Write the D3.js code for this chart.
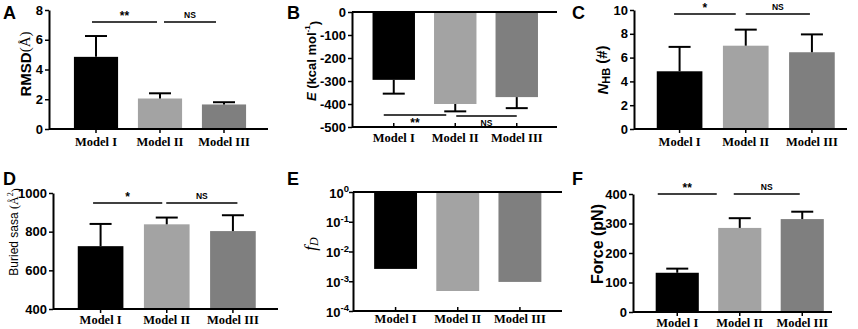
<!DOCTYPE html>
<html>
<head>
<meta charset="utf-8">
<title>Model comparison</title>
<style>
  body { margin: 0; background: #fff; }
  text { fill: #000; }
</style>
</head>
<body>
<script src="https://cdn.jsdelivr.net/npm/d3@7"></script>
<script>
    // data
    const models = ["Model I", "Model II", "Model III"];
    const barColors = ["#000000", "#a3a3a3", "#7f7f7f"];

    const rmsdMean = [4.85, 2.05, 1.65];
    const rmsdErr = [1.4, 0.35, 0.15];
    const energyMean = [-295, -400, -370];
    const energyErr = [60, 32, 48];
    const nhbMean = [4.85, 7.0, 6.45];
    const nhbErr = [2.05, 1.35, 1.5];
    const sasaMean = [725, 838, 803];
    const sasaErr = [115, 35, 82];
    const fdValue = [0.0026, 0.00047, 0.00095];
    const forceMean = [133, 285, 315];
    const forceErr = [14, 33, 25];

    const ticksA = [0, 2, 4, 6, 8];
    const ticksB = [0, -100, -200, -300, -400, -500];
    const ticksC = [0, 2, 4, 6, 8, 10];
    const ticksD = [400, 600, 800, 1000];
    const ticksE = [0, -1, -2, -3, -4]; // exponents of 10
    const ticksF = [0, 100, 200, 300, 400];

    const SANS = "'Liberation Sans', Arial, sans-serif";
    const SERIF = "'Liberation Serif', 'Times New Roman', serif";

    const width = 858, height = 329;
    const svg = d3.select("body").append("svg")
        .attr("width", width)
        .attr("height", height)
        .attr("viewBox", `0 0 ${width} ${height}`);

    // panel layouts (pixel frame of each plot)
    const panels = [
        {letter: "A", lx: 3, ly: 19, axisX: 49, xEnd: 268, yTop: 10, yBot: 129, band: [64, 256],
         domain: [0, 8], ticks: ticksA, base: 0, mean: rmsdMean, err: rmsdErr, pad: 4,
         label: "rmsd", labelX: 25, labelY: 64,
         sig: [{a: 0, b: 1, text: "**", y: 7.2, dx: [-4, -3]}, {a: 1, b: 2, text: "NS", y: 7.2, dx: [4, -8]}]},
        {letter: "B", lx: 287, ly: 19, axisX: 352, xEnd: 557, yTop: 12, yBot: 127, band: [363, 547.5],
         domain: [-500, 0], ticks: ticksB, base: 0, mean: energyMean, err: energyErr, topAxis: true, pad: 6,
         label: "energy", labelX: 311, labelY: 61,
         sig: [{a: 0, b: 1, text: "**", y: -448, dx: [-10, -9], below: true},
               {a: 1, b: 2, text: "NS", y: -452, dx: [1, 0], below: true}]},
        {letter: "C", lx: 572, ly: 19, axisX: 634, xEnd: 847, yTop: 10, yBot: 129, band: [646.5, 845],
         domain: [0, 10], ticks: ticksC, base: 0, mean: nhbMean, err: nhbErr, pad: 4,
         label: "nhb", labelX: 602, labelY: 70,
         sig: [{a: 0, b: 1, text: "*", y: 9.66, dx: [-5.5, -10]}, {a: 1, b: 2, text: "NS", y: 9.66, dx: [0, -2]}]},
        {letter: "D", lx: 3, ly: 185, axisX: 53, xEnd: 278, yTop: 193, yBot: 309, band: [67.5, 266],
         domain: [400, 1000], ticks: ticksD, base: 400, mean: sasaMean, err: sasaErr, pad: 2,
         label: "sasa", labelX: 14, labelY: 232,
         sig: [{a: 0, b: 1, text: "*", y: 948, dx: [-7.5, -4.5]}, {a: 1, b: 2, text: "NS", y: 948, dx: [-0.5, 4.5]}]},
        {letter: "E", lx: 287, ly: 185, axisX: 353, xEnd: 562, yTop: 192, yBot: 311, band: [364.5, 551],
         domain: [1e-4, 1], log: true, ticks: ticksE, base: 1, mean: fdValue, err: null, topAxis: true, pad: 3,
         label: "fd", labelX: 310, labelY: 244, sig: []},
        {letter: "F", lx: 572, ly: 185, axisX: 633, xEnd: 832, yTop: 194, yBot: 312, band: [646, 833.5],
         domain: [0, 400], ticks: ticksF, base: 0, mean: forceMean, err: forceErr, pad: 2,
         label: "force", labelX: 597, labelY: 244,
         sig: [{a: 0, b: 1, text: "**", y: 400, dx: [-19.5, -23]}, {a: 1, b: 2, text: "NS", y: 400, dx: [-6, -2.5]}]}
    ];

    panels.forEach(p => drawPanel(svg.append("g").attr("class", "panel" + p.letter), p));

    function drawPanel(root, p) {
        const scaleY = (p.log ? d3.scaleLog() : d3.scaleLinear())
            .domain(p.domain)
            .range([p.yBot, p.yTop]);
        const scaleX = d3.scaleBand()
            .domain(models)
            .range(p.band)
            .paddingInner(0.31)
            .paddingOuter(0.155);
        const bw = scaleX.bandwidth();
        const cx = i => scaleX(models[i]) + bw / 2;

        // bars
        root.append("g").selectAll("rect")
            .data(p.mean)
            .join("rect")
            .attr("x", (d, i) => scaleX(models[i]))
            .attr("width", bw)
            .attr("y", d => Math.min(scaleY(d), scaleY(p.base)))
            .attr("height", d => Math.abs(scaleY(d) - scaleY(p.base)))
            .attr("fill", (d, i) => barColors[i]);

        // error bars (one-sided, away from baseline)
        if (p.err) {
            const cap = 11;
            const gErr = root.append("g")
                .attr("stroke", "#000")
                .attr("stroke-width", 2);
            p.mean.forEach((m, i) => {
                const end = m + Math.sign(m - p.base) * p.err[i];
                gErr.append("line")
                    .attr("x1", cx(i)).attr("x2", cx(i))
                    .attr("y1", scaleY(m)).attr("y2", scaleY(end));
                gErr.append("line")
                    .attr("x1", cx(i) - cap).attr("x2", cx(i) + cap)
                    .attr("y1", scaleY(end)).attr("y2", scaleY(end));
            });
        }

        // y axis
        const axisY = d3.axisLeft(scaleY)
            .tickValues(p.log ? p.ticks.map(e => Math.pow(10, e)) : p.ticks)
            .tickSize(4)
            .tickSizeOuter(0)
            .tickPadding(2)
            .tickFormat(p.log ? () => "" : d => String(d));
        const gY = root.append("g")
            .attr("transform", `translate(${p.axisX},0)`)
            .call(axisY);
        gY.selectAll(".domain").attr("stroke-width", 2);
        gY.selectAll(".tick line").attr("stroke-width", 1.5);
        gY.selectAll(".tick text")
            .attr("font-family", SANS)
            .attr("font-weight", "bold")
            .attr("font-size", 13);
        if (p.log) {
            gY.selectAll(".tick").each(function (d) {
                const t = d3.select(this).append("text")
                    .attr("x", -4)
                    .attr("dy", "0.4em")
                    .attr("text-anchor", "end")
                    .attr("font-family", SANS)
                    .attr("font-weight", "bold")
                    .attr("font-size", 13)
                    .attr("fill", "#000");
                t.append("tspan").text("10");
                t.append("tspan")
                    .attr("dy", "-0.55em")
                    .attr("font-size", 9.5)
                    .text(String(Math.round(Math.log10(d))));
            });
        }

        // x axis (bottom), category labels
        const axisX = d3.axisBottom(scaleX)
            .tickSize(p.topAxis ? -4 : 4)
            .tickSizeOuter(0)
            .tickPadding(p.pad);
        const gX = root.append("g")
            .attr("transform", `translate(0,${p.yBot})`)
            .call(axisX);
        gX.select(".domain")
            .attr("d", `M${p.axisX},0H${p.xEnd}`)
            .attr("stroke-width", 2);
        gX.selectAll(".tick line").attr("stroke-width", 1.5);
        gX.selectAll(".tick text")
            .attr("font-family", SERIF)
            .attr("font-weight", "bold")
            .attr("font-size", 12.5);

        // zero / baseline axis at top for negative or log bars
        if (p.topAxis) {
            root.append("line")
                .attr("x1", p.axisX).attr("x2", p.xEnd)
                .attr("y1", scaleY(p.base)).attr("y2", scaleY(p.base))
                .attr("stroke", "#000")
                .attr("stroke-width", 2);
        }

        // significance brackets
        p.sig.forEach(s => {
            const x1 = cx(s.a) + s.dx[0], x2 = cx(s.b) + s.dx[1];
            const yy = scaleY(s.y);
            root.append("line")
                .attr("x1", x1).attr("x2", x2)
                .attr("y1", yy).attr("y2", yy)
                .attr("stroke", "#000")
                .attr("stroke-width", 1.5);
            const isNS = s.text === "NS";
            root.append("text")
                .attr("x", (x1 + x2) / 2)
                .attr("y", s.below ? yy + (isNS ? 10 : 12) : yy - (isNS ? 4 : 2))
                .attr("text-anchor", "middle")
                .attr("font-family", SANS)
                .attr("font-weight", "bold")
                .attr("font-size", isNS ? 8.5 : 12)
                .text(s.text);
        });

        // panel letter
        root.append("text")
            .attr("x", p.lx).attr("y", p.ly)
            .attr("font-family", SANS)
            .attr("font-weight", "bold")
            .attr("font-size", 18)
            .text(p.letter);

        // y title
        const title = root.append("text")
            .attr("transform", `translate(${p.labelX},${p.labelY}) rotate(-90)`)
            .attr("text-anchor", "middle")
            .attr("dominant-baseline", "central")
            .attr("font-family", SANS)
            .attr("font-weight", "bold")
            .attr("font-size", 15);
        writeTitle(title, p.label);
    }

    function writeTitle(t, kind) {
        if (kind === "rmsd") {
            t.append("tspan").text("RMSD");
            t.append("tspan").attr("font-family", SERIF).attr("font-weight", "normal").text("(Å)");
        } else if (kind === "energy") {
            t.attr("font-size", 13);
            t.append("tspan").attr("font-style", "italic").text("E");
            t.append("tspan").text(" (kcal mol");
            t.append("tspan").attr("dy", "-0.5em").attr("font-size", 8).text("-1");
            t.append("tspan").attr("dy", "0.5em").text(")");
        } else if (kind === "nhb") {
            t.append("tspan").attr("font-style", "italic").text("N");
            t.append("tspan").attr("dy", "0.35em").attr("font-size", 11).text("HB");
            t.append("tspan").attr("dy", "-0.35em").text(" (#)");
        } else if (kind === "sasa") {
            t.attr("font-weight", "normal").attr("font-size", 12);
            t.append("tspan").text("Buried sasa ");
            t.append("tspan").attr("font-family", SERIF).text("(Å");
            t.append("tspan").attr("font-family", SERIF).attr("dy", "-0.5em").attr("font-size", 8).text("2");
            t.append("tspan").attr("font-family", SERIF).attr("dy", "0.5em").text(")");
        } else if (kind === "fd") {
            t.attr("font-family", SERIF).attr("font-weight", "normal").attr("font-style", "italic").attr("font-size", 17);
            t.append("tspan").text("f");
            t.append("tspan").attr("dy", "0.3em").attr("font-size", 12).text("D");
        } else if (kind === "force") {
            t.attr("font-size", 16);
            t.text("Force (pN)");
        }
    }
</script>
</body>
</html>
